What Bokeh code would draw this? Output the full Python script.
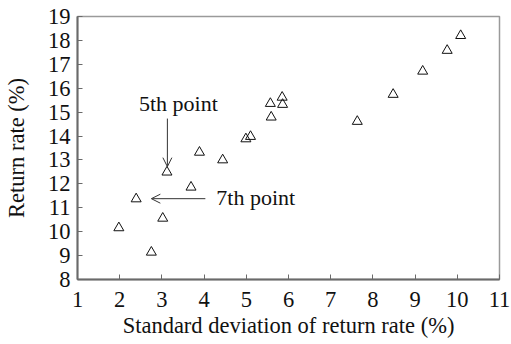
from bokeh.plotting import figure
from bokeh.models import Arrow, OpenHead, Label, Range1d, FixedTicker
from bokeh.embed import file_html
from bokeh.resources import INLINE

# data (standard deviation %, return rate %)
std_dev = [1.98, 2.39, 2.75, 3.02, 3.12, 3.69, 3.89, 4.44, 4.99, 5.10,
           5.59, 5.57, 5.85, 5.86, 7.63, 8.48, 9.18, 9.76, 10.08]
ret_rate = [10.16, 11.37, 9.14, 10.56, 12.49, 11.86, 13.32, 13.00, 13.88, 13.98,
            14.79, 15.36, 15.62, 15.32, 14.61, 15.74, 16.71, 17.58, 18.20]

x_ticks = list(range(1, 12))
y_ticks = list(range(8, 20))

FONT = "'Liberation Serif', 'Times New Roman', serif"
TXT = "#111111"

p = figure(width=511, height=344, output_backend="svg", toolbar_location=None,
           x_range=Range1d(1, 11), y_range=Range1d(8, 19),
           min_border_left=77, min_border_top=16, min_border_right=12, min_border_bottom=65)

p.xgrid.visible = False
p.ygrid.visible = False
p.outline_line_color = "#9a9a9a"
p.outline_line_width = 1.5

for ax in (p.xaxis[0], p.yaxis[0]):
    ax.major_label_text_font = FONT
    ax.major_label_text_font_size = "22.5px"
    ax.major_label_text_color = TXT
    ax.axis_label_text_font = FONT
    ax.axis_label_text_font_size = "22.5px"
    ax.axis_label_text_font_style = "normal"
    ax.axis_label_text_color = TXT
    ax.axis_line_color = "#6a6a6a"
    ax.axis_line_width = 2
    ax.major_tick_line_color = "#6a6a6a"
    ax.major_tick_in = 5
    ax.major_tick_out = 0
    ax.minor_tick_line_color = None

p.xaxis.ticker = FixedTicker(ticks=x_ticks)
p.yaxis.ticker = FixedTicker(ticks=y_ticks)
p.xaxis.axis_label = "Standard deviation of return rate (%)"
p.yaxis.axis_label = "Return rate (%)"
p.xaxis.major_label_standoff = 12
p.yaxis.major_label_standoff = 7
p.xaxis.axis_label_standoff = 3
p.yaxis.axis_label_standoff = 16

p.scatter(std_dev, ret_rate, marker="triangle", size=10, fill_color=None,
          line_color="#111111", line_width=1)

# annotations
p.add_layout(Arrow(end=OpenHead(size=9, line_color="#333333", line_width=1),
                   x_start=3.13, y_start=14.73, x_end=3.13, y_end=12.72,
                   line_color="#333333", line_width=1))
p.add_layout(Arrow(end=OpenHead(size=9, line_color="#333333", line_width=1),
                   x_start=4.03, y_start=11.38, x_end=2.75, y_end=11.38,
                   line_color="#333333", line_width=1))
p.add_layout(Label(x=3.39, y=15.36, text="5th point", text_align="center",
                   text_baseline="middle", text_font=FONT, text_font_size="22px",
                   text_color=TXT))
p.add_layout(Label(x=4.29, y=11.42, text="7th point", text_align="left",
                   text_baseline="middle", text_font=FONT, text_font_size="22px",
                   text_color=TXT))

open("out.html", "w").write(file_html(p, INLINE))
